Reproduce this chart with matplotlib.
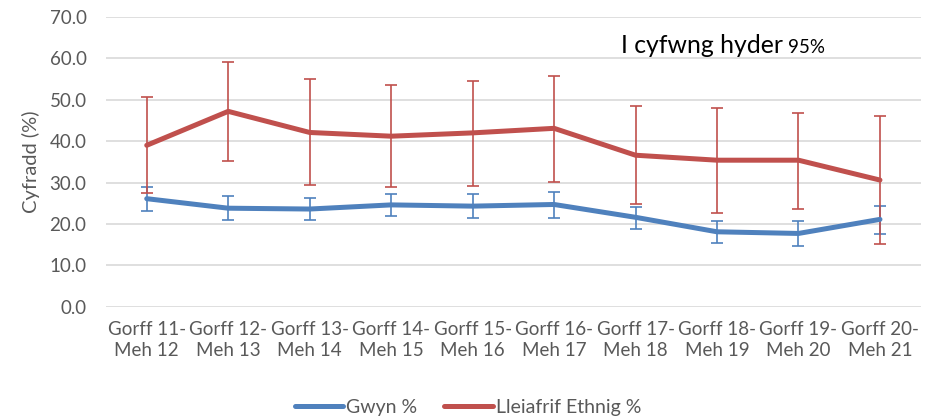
import matplotlib.pyplot as plt
import numpy as np

# data
cyfnodau = ['Gorff 11-\nMeh 12', 'Gorff 12-\nMeh 13', 'Gorff 13-\nMeh 14', 'Gorff 14-\nMeh 15',
            'Gorff 15-\nMeh 16', 'Gorff 16-\nMeh 17', 'Gorff 17-\nMeh 18', 'Gorff 18-\nMeh 19',
            'Gorff 19-\nMeh 20', 'Gorff 20-\nMeh 21']
gwyn = [26.1, 23.8, 23.6, 24.6, 24.3, 24.7, 21.6, 18.1, 17.7, 21.1]
gwyn_uchaf = [28.9, 26.7, 26.2, 27.2, 27.3, 27.8, 24.2, 20.6, 20.8, 24.4]
gwyn_isaf = [23.2, 21.0, 20.9, 21.9, 21.4, 21.4, 18.7, 15.3, 14.7, 17.6]
ethnig = [39.0, 47.2, 42.1, 41.2, 42.0, 43.1, 36.6, 35.4, 35.4, 30.6]
ethnig_uchaf = [50.7, 59.2, 55.0, 53.6, 54.6, 55.8, 48.5, 47.9, 46.9, 46.0]
ethnig_isaf = [27.4, 35.2, 29.4, 29.0, 29.1, 30.2, 24.7, 22.7, 23.7, 15.2]

plt.rcParams['font.family'] = ['Lato', 'DejaVu Sans']

glas = '#4F81BD'
coch = '#C0504D'
llwyd = '#595959'

fig = plt.figure(figsize=(9.34, 4.19), dpi=100)
ax = fig.add_axes([106/934, 1-306.7/419, (920.7-106)/934, (306.7-17)/419])

x = np.arange(len(cyfnodau))

# error bars first, then the thick lines on top
ax.errorbar(x, gwyn, yerr=[np.array(gwyn)-np.array(gwyn_isaf), np.array(gwyn_uchaf)-np.array(gwyn)],
            fmt='none', ecolor=glas, elinewidth=1.2, capsize=4, capthick=1.2, zorder=3)
ax.errorbar(x, ethnig, yerr=[np.array(ethnig)-np.array(ethnig_isaf), np.array(ethnig_uchaf)-np.array(ethnig)],
            fmt='none', ecolor=coch, elinewidth=1.2, capsize=4, capthick=1.2, zorder=3)
ax.plot(x, gwyn, color=glas, lw=3.6, solid_capstyle='round', label='Gwyn %', zorder=4)
ax.plot(x, ethnig, color=coch, lw=3.6, solid_capstyle='round', label='Lleiafrif Ethnig %', zorder=4)

ax.set_xlim(-0.5, len(cyfnodau)-0.5)
ax.set_ylim(0, 70)
ax.set_yticks(np.arange(0, 71, 10))
ax.set_yticklabels([f'{v:.1f}' for v in np.arange(0, 71, 10)])
ax.set_xticks(x)
ax.set_xticklabels(cyfnodau, linespacing=1.35)
ax.tick_params(axis='both', length=0, labelsize=13.5, colors=llwyd, pad=10)
ax.tick_params(axis='y', pad=14)
ax.grid(axis='y', color='#D9D9D9', lw=1.2)
ax.set_axisbelow(True)
for s in ax.spines.values():
    s.set_visible(False)

ax.set_ylabel('Cyfradd (%)', fontsize=14.5, color=llwyd)
ax.yaxis.set_label_coords(-66/814.7, 0.5)

# title inside the plot
fig.text(621/934, 1-53/419, 'I cyfwng hyder', fontsize=17.8, color='black', va='baseline', ha='left')
fig.text(788/934, 1-53/419, '95%', fontsize=13.5, color='black', va='baseline', ha='left')

fig.legend(loc='center', bbox_to_anchor=(468/934, 1-407/419), ncol=2, frameon=False,
           fontsize=14, labelcolor=llwyd, handlelength=2.5, handletextpad=0.15, columnspacing=1.4)

plt.savefig('out.png', dpi=100)
